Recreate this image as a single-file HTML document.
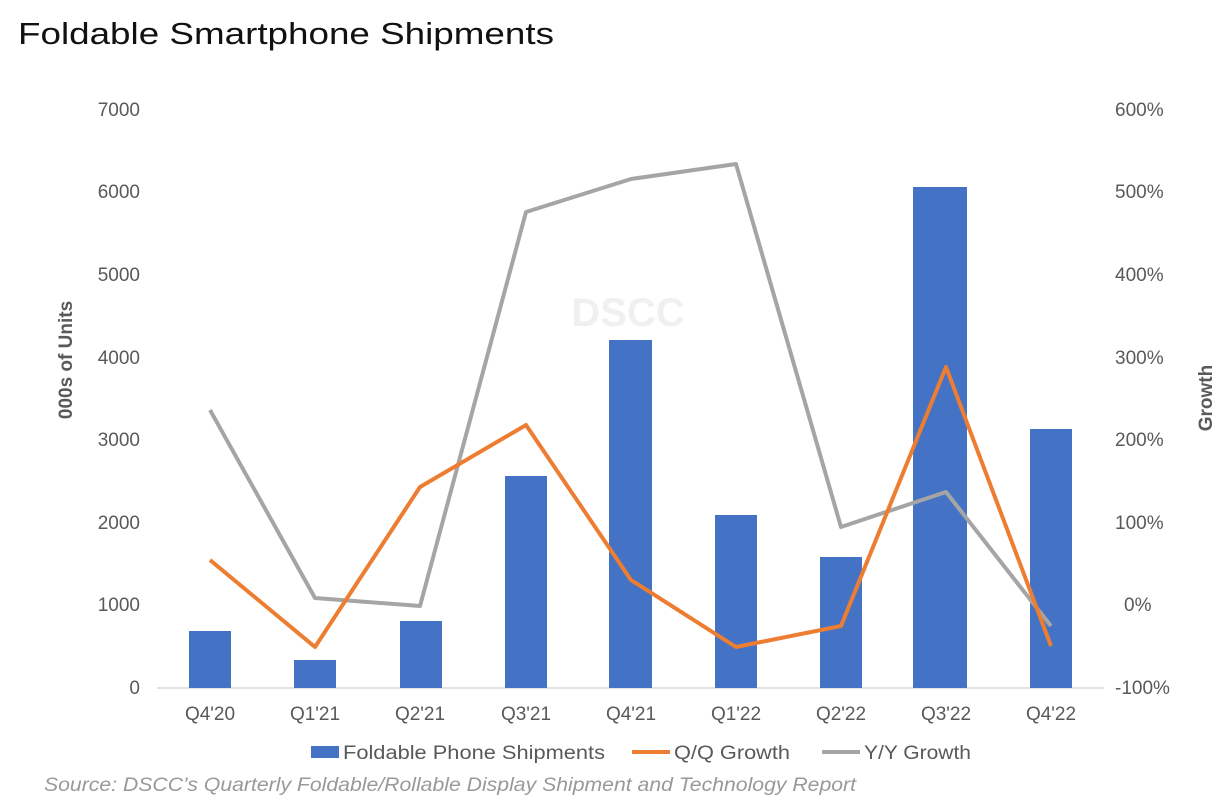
<!DOCTYPE html>
<html><head><meta charset="utf-8"><style>
body{margin:0;background:#fff;width:1223px;height:807px;overflow:hidden;font-family:"Liberation Sans",sans-serif}
</style></head><body>
<svg width="1223" height="807" xmlns="http://www.w3.org/2000/svg" font-family="Liberation Sans, sans-serif">
<text x="18" y="44" font-size="31" fill="#111" textLength="536" lengthAdjust="spacingAndGlyphs">Foldable Smartphone Shipments</text>
<text x="628" y="326" font-size="40" font-weight="bold" fill="#f0f0f0" text-anchor="middle">DSCC</text>
<g font-size="19" fill="#595959" text-anchor="end">
<text x="140" y="694">0</text><text x="140" y="611">1000</text><text x="140" y="529">2000</text><text x="140" y="446">3000</text><text x="140" y="364">4000</text><text x="140" y="281">5000</text><text x="140" y="198">6000</text><text x="140" y="116">7000</text>
</g>
<g font-size="19" fill="#595959">
<text x="1115" y="694">-100%</text><text x="1124" y="611">0%</text><text x="1115" y="529">100%</text><text x="1115" y="446">200%</text><text x="1115" y="364">300%</text><text x="1115" y="281">400%</text><text x="1115" y="198">500%</text><text x="1115" y="116">600%</text>
</g>
<text transform="translate(72,360) rotate(-90)" font-size="19" font-weight="bold" fill="#595959" text-anchor="middle">000s of Units</text>
<text transform="translate(1212,398) rotate(-90)" font-size="19" font-weight="bold" fill="#595959" text-anchor="middle">Growth</text>
<line x1="157" y1="688" x2="1104" y2="688" stroke="#d9d9d9" stroke-width="1.5"/>
<g fill="#4472c4">
<rect x="189" y="631" width="42" height="57"/>
<rect x="294" y="660" width="42" height="28"/>
<rect x="400" y="621" width="42" height="67"/>
<rect x="505" y="476" width="42" height="212"/>
<rect x="609" y="340" width="43" height="348"/>
<rect x="715" y="515" width="42" height="173"/>
<rect x="820" y="557" width="42" height="131"/>
<rect x="913" y="187" width="54" height="501"/>
<rect x="1030" y="429" width="42" height="259"/>
</g>
<polyline fill="none" stroke="#a5a5a5" stroke-width="4" stroke-linejoin="round" points="210,410 315,598 420,606 526,212 631,179 736,164 841,527 946,492 1051,626"/>
<polyline fill="none" stroke="#ed7d31" stroke-width="4" stroke-linejoin="round" points="210,560 315,647 420,487 526,425 631,580 736,647 841,626 946,367 1051,646"/>
<g font-size="19" fill="#595959" text-anchor="middle">
<text x="210" y="720">Q4'20</text><text x="315" y="720">Q1'21</text><text x="420" y="720">Q2'21</text><text x="526" y="720">Q3'21</text><text x="631" y="720">Q4'21</text><text x="736" y="720">Q1'22</text><text x="841" y="720">Q2'22</text><text x="946" y="720">Q3'22</text><text x="1051" y="720">Q4'22</text>
</g>
<rect x="311" y="746" width="28" height="12" fill="#4472c4"/>
<text x="343" y="759" font-size="19" fill="#595959" textLength="262" lengthAdjust="spacingAndGlyphs">Foldable Phone Shipments</text>
<line x1="632" y1="752" x2="670" y2="752" stroke="#ed7d31" stroke-width="4"/>
<text x="674" y="759" font-size="19" fill="#595959" textLength="116" lengthAdjust="spacingAndGlyphs">Q/Q Growth</text>
<line x1="822" y1="752" x2="860" y2="752" stroke="#a5a5a5" stroke-width="4"/>
<text x="864" y="759" font-size="19" fill="#595959" textLength="107" lengthAdjust="spacingAndGlyphs">Y/Y Growth</text>
<text x="44" y="791" font-size="19" font-style="italic" fill="#999" textLength="812" lengthAdjust="spacingAndGlyphs">Source: DSCC’s Quarterly Foldable/Rollable Display Shipment and Technology Report</text>
</svg>
</body></html>
